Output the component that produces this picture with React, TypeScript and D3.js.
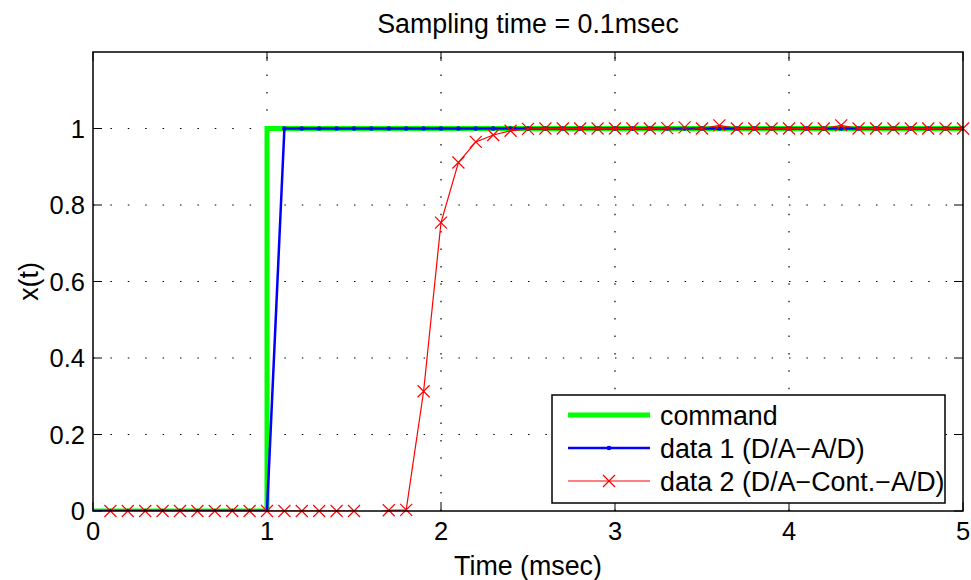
import * as d3 from 'd3';
import React from 'react';

const WIDTH = 971;
const HEIGHT = 580;
const LEFT = 93;
const RIGHT = 963;
const TOP = 52;
const BOTTOM = 511;
const FONT = 'Liberation Sans, Arial, Helvetica, sans-serif';
const LABEL_SIZE = 26.8;

const SAMPLE_TIME = 0.1;
const xTicks = [0, 1, 2, 3, 4, 5];
const yTicks = [0, 0.2, 0.4, 0.6, 0.8, 1];

// command: ideal step at t = 1
const commandTime = [0, 1, 1, 5];
const commandValue = [0, 0, 1, 1];

// data 1 (D/A-A/D), one sample per 0.1 msec
const data1 = [
    0, 0, 0, 0, 0, 0, 0, 0, 0, 0, 0,
    1, 1, 1, 1, 1, 1, 1, 1, 1, 1,
    1, 1, 1, 1, 1, 1, 1, 1, 1, 1,
    1, 1, 1, 1, 1, 1, 1, 1, 1, 1,
    1, 1, 1, 1, 1, 1, 1, 1, 1, 1,
];

// data 2 (D/A-Cont.-A/D), one sample per 0.1 msec
const data2 = [
    -0.003, 0, 0, 0, 0, 0, 0, 0, 0, 0, 0,
    0, 0, 0, 0, 0, -0.006, 0.002, 0.003, 0.313, 0.754,
    0.911, 0.965, 0.983, 0.994, 0.999, 1, 1, 1, 1, 1,
    1, 1, 1.001, 1.003, 1, 1.008, 1, 1, 1, 1,
    1, 1, 1.008, 1, 1, 1, 1, 1, 1, 1,
];

const legendItems = [
    { label: 'command', color: '#00ff00', width: 5, marker: 'none' },
    { label: 'data 1 (D/A\u2212A/D)', color: '#0000ff', width: 2.5, marker: 'dot' },
    { label: 'data 2 (D/A\u2212Cont.\u2212A/D)', color: '#ff0000', width: 1, marker: 'x' },
];

const Cross = ({x, y, r, color}: {x: number, y: number, r: number, color: string}) => (
    <g stroke={color} strokeWidth={1.2}>
        <line x1={x - r} y1={y - r} x2={x + r} y2={y + r}/>
        <line x1={x - r} y1={y + r} x2={x + r} y2={y - r}/>
    </g>
);

export default function App() {
    const xScale = d3.scaleLinear().domain([0, 5]).range([LEFT, RIGHT]);
    const yScale = d3.scaleLinear().domain([0, 1.2]).range([BOTTOM, TOP]);

    const line = d3.line<[number, number]>()
        .x(d => xScale(d[0]))
        .y(d => yScale(d[1]));

    const cmdPoints: [number, number][] = commandTime.map((t, i) => [t, commandValue[i]]);
    const d1Points: [number, number][] = data1.map((v, i) => [i * SAMPLE_TIME, v]);
    const d2Points: [number, number][] = data2.map((v, i) => [i * SAMPLE_TIME, v]);
    // markers outside the axis limits are not drawn (matlab style)
    const inside = (p: [number, number]) => p[1] >= 0 && p[1] <= 1.2 && p[0] > 0;

    const legX = 552, legY = 395, legW = 393, legH = 108;

    return (
        <svg width={WIDTH} height={HEIGHT} style={{position: 'absolute', left: 0, top: 0}} fontFamily={FONT}>
            <defs>
                <clipPath id="plot-area">
                    <rect x={LEFT} y={TOP} width={RIGHT - LEFT} height={BOTTOM - TOP}/>
                </clipPath>
            </defs>
            <rect x={0} y={0} width={WIDTH} height={HEIGHT} fill="#fff"/>

            {/* grid */}
            <g stroke="#000" strokeWidth={1.2} strokeDasharray="1.5,15.9">
                {xTicks.slice(1, -1).map(t => (
                    <line key={'gx' + t} x1={xScale(t)} x2={xScale(t)} y1={BOTTOM} y2={TOP}/>
                ))}
                {yTicks.slice(1).map(t => (
                    <line key={'gy' + t} x1={LEFT} x2={RIGHT} y1={yScale(t)} y2={yScale(t)}/>
                ))}
            </g>

            {/* ticks, inside on all four sides */}
            <g stroke="#000" strokeWidth={1}>
                {xTicks.map(t => (
                    <g key={'tx' + t}>
                        <line x1={xScale(t)} x2={xScale(t)} y1={BOTTOM} y2={BOTTOM - 9}/>
                        <line x1={xScale(t)} x2={xScale(t)} y1={TOP} y2={TOP + 9}/>
                    </g>
                ))}
                {yTicks.map(t => (
                    <g key={'ty' + t}>
                        <line x1={LEFT} x2={LEFT + 9} y1={yScale(t)} y2={yScale(t)}/>
                        <line x1={RIGHT} x2={RIGHT - 9} y1={yScale(t)} y2={yScale(t)}/>
                    </g>
                ))}
            </g>

            <g clipPath="url(#plot-area)">
                <path d={line(cmdPoints) ?? ''} fill="none" stroke="#00ff00" strokeWidth={5}/>
                <path d={line(d1Points) ?? ''} fill="none" stroke="#0000ff" strokeWidth={2.5}/>
                {d1Points.filter(inside).map((p, i) => (
                    <circle key={'d1' + i} cx={xScale(p[0])} cy={yScale(p[1])} r={2.3} fill="#0000ff"/>
                ))}
                <path d={line(d2Points) ?? ''} fill="none" stroke="#ff0000" strokeWidth={1.2}/>
            </g>
            {d2Points.filter(inside).map((p, i) => (
                <Cross key={'d2' + i} x={xScale(p[0])} y={yScale(p[1])} r={6} color="#ff0000"/>
            ))}

            {/* axes box */}
            <rect x={LEFT} y={TOP} width={RIGHT - LEFT} height={BOTTOM - TOP} fill="none" stroke="#000" strokeWidth={1.5}/>

            {/* tick labels */}
            <g fontSize={25.5} fill="#000">
                {xTicks.map(t => (
                    <text key={'lx' + t} x={xScale(t)} y={BOTTOM + 29} textAnchor="middle">{t}</text>
                ))}
                {yTicks.map(t => (
                    <text key={'ly' + t} x={LEFT - 8} y={yScale(t) + 9} textAnchor="end">{t}</text>
                ))}
            </g>

            {/* titles */}
            <text x={(LEFT + RIGHT) / 2} y={33} textAnchor="middle" fontSize={LABEL_SIZE}>Sampling time = 0.1msec</text>
            <text x={(LEFT + RIGHT) / 2} y={575} textAnchor="middle" fontSize={LABEL_SIZE}>Time (msec)</text>
            <text transform={`translate(38,${(TOP + BOTTOM) / 2}) rotate(-90)`} textAnchor="middle" fontSize={LABEL_SIZE}>x(t)</text>

            {/* legend */}
            <g>
                <rect x={legX} y={legY} width={legW} height={legH} fill="#fff" stroke="#000" strokeWidth={1.5}/>
                {legendItems.map((item, i) => {
                    const cy = legY + 20 + i * 33;
                    const mid = legX + 57;
                    return (
                        <g key={item.label}>
                            <line x1={legX + 16} x2={legX + 98} y1={cy} y2={cy} stroke={item.color} strokeWidth={item.width}/>
                            {item.marker === 'dot' && <circle cx={mid} cy={cy} r={2.3} fill={item.color}/>}
                            {item.marker === 'x' && <Cross x={mid} y={cy} r={6} color={item.color}/>}
                            <text x={legX + 108} y={cy + 9.5} fontSize={LABEL_SIZE}>{item.label}</text>
                        </g>
                    );
                })}
            </g>
        </svg>
    );
}
